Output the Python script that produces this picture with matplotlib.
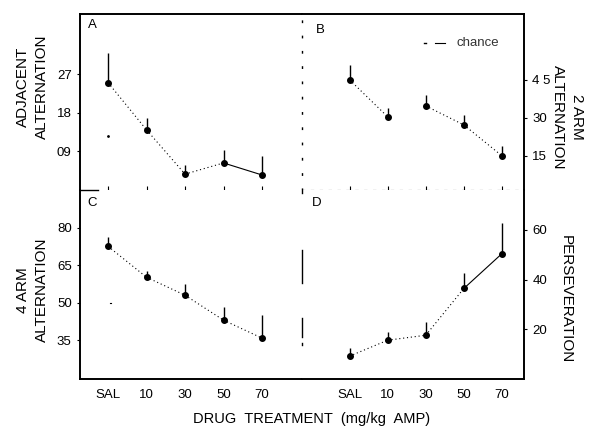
import numpy as np
import matplotlib
matplotlib.use('Agg')
import matplotlib.pyplot as plt

plt.rcParams['font.family'] = ['Liberation Sans', 'DejaVu Sans']

# (mean and top of the error bar)
doses = ['SAL', '10', '30', '50', '70']
adj_mean = [25.0, 14.0, 3.7, 6.3, 3.5]
adj_upper = [32.0, 16.8, 5.8, 9.4, 8.0]
arm2_mean = [45.0, 30.4, 34.7, 27.2, 15.0]
arm2_upper = [51.0, 34.0, 39.0, 31.0, 19.0]
arm4_mean = [72.6, 60.2, 53.0, 43.0, 35.8]
arm4_upper = [76.5, 62.7, 57.5, 48.2, 45.0]
pers_mean = [9.2, 15.6, 17.6, 36.4, 50.4]
pers_upper = [12.4, 18.8, 22.8, 42.8, 62.8]
adj_chance = 12.6

adj_ticks = [9, 18, 27]
adj_ticklabels = ['09', '18', '27']
arm2_ticks = [15, 30, 45]
arm4_ticks = [35, 50, 65, 80]
pers_ticks = [20, 40, 60]

x = np.arange(len(doses))

fig = plt.figure(figsize=(5.9, 4.29), dpi=100)
W, H = 590.0, 429.0


def box(x0, y0, x1, y1):
    # pixel box -> figure fraction
    return [x0 / W, 1 - y1 / H, (x1 - x0) / W, (y1 - y0) / H]


axA = fig.add_axes(box(80, 14, 302, 190))
axB = fig.add_axes(box(302, 14, 524, 190))
axC = fig.add_axes(box(80, 190, 302, 379))
axD = fig.add_axes(box(302, 190, 524, 379))

dot = (0, (1, 2.5))


def draw(ax, mean, upper, styles):
    for i in range(len(x) - 1):
        if styles[i] is None:
            continue
        ax.plot(x[i:i + 2], mean[i:i + 2], color='black', lw=0.8,
                linestyle=styles[i], zorder=2)
    ax.vlines(x, mean, upper, color='black', lw=1.0, zorder=2)
    ax.plot(x, mean, 'o', color='black', ms=4, zorder=3)


draw(axA, adj_mean, adj_upper, [dot, dot, dot, '-'])
draw(axB, arm2_mean, arm2_upper, [dot, None, dot, dot])
draw(axC, arm4_mean, arm4_upper, [dot, dot, dot, dot])
draw(axD, pers_mean, pers_upper, [dot, dot, dot, '-'])
axA.plot([0], [adj_chance], '.', color='black', ms=2)

axA.set_xlim(-0.73, 5.04)
axC.set_xlim(-0.73, 5.04)
axB.set_xlim(-1.25, 4.58)
axD.set_xlim(-1.25, 4.58)
axA.set_ylim(0, 41)
axB.set_ylim(1.5, 71)
axC.set_ylim(19.4, 95.2)
axD.set_ylim(0, 76)

for ax in (axA, axB, axC, axD):
    for s in ax.spines.values():
        s.set_linewidth(1.4)
    ax.tick_params(labelsize=9.5, length=2.5, width=0.8, direction='out')

# left column
axA.yaxis.tick_left()
axA.set_yticks(adj_ticks)
axA.set_yticklabels(adj_ticklabels)
axA.set_xticks(x)
axA.tick_params(axis='x', direction='in', length=3, labelbottom=False)
axA.spines['bottom'].set_visible(False)
axA.spines['right'].set_visible(False)

axC.set_yticks(arm4_ticks)
axC.set_xticks(x)
axC.set_xticklabels(doses)
axC.tick_params(axis='x', length=0, pad=7)
axC.spines['top'].set_visible(False)
axC.spines['right'].set_visible(False)
axC.plot([0, 0.08], [1, 1], transform=axC.transAxes, color='black', lw=1.0,
         clip_on=False)
axC.plot([0.06, 0.08], [50, 50], color='black', lw=0.8)

# right column
for ax, ticks in ((axB, arm2_ticks), (axD, pers_ticks)):
    ax.yaxis.tick_right()
    ax.set_yticks(ticks)
    ax.spines['left'].set_linewidth(1.0)
axB.set_yticklabels(['15', '30', '4 5'])
axB.set_xticks(x)
axB.tick_params(axis='x', direction='in', length=3, labelbottom=False)
axB.spines['left'].set_linestyle((0, (1, 10)))
axB.spines['bottom'].set_linewidth(0.8)
axB.spines['bottom'].set_linestyle((0, (2, 6)))
axD.set_xticks(x)
axD.set_xticklabels(doses)
axD.tick_params(axis='x', length=0, pad=7)
axD.spines['top'].set_visible(False)
# broken divider between C and D, pattern in pixels from the bottom
seg_px = [2, 6, 19, 35, 33, 57, 3, 100]
seg = [v * 72 / 100 for v in seg_px]
axD.spines['left'].set_linestyle((sum(seg) - 34 * 0.72, seg))

# axis titles
title_kw = dict(fontsize=11, linespacing=1.45, ha='center', va='center')
axA.text(-0.215, 0.585, 'ADJACENT\nALTERNATION', transform=axA.transAxes,
         rotation=90, **title_kw)
axC.text(-0.212, 0.47, '4 ARM\nALTERNATION', transform=axC.transAxes,
         rotation=90, **title_kw)
axB.text(1.194, 0.415, '2 ARM\nALTERNATION', transform=axB.transAxes,
         rotation=270, **title_kw)
axD.text(1.19, 0.423, 'PERSEVERATION', transform=axD.transAxes,
         rotation=270, **title_kw)

for ax, lab, px, py in ((axA, 'A', 0.036, 0.97), (axB, 'B', 0.063, 0.945),
                        (axC, 'C', 0.032, 0.965), (axD, 'D', 0.045, 0.965)):
    ax.text(px, py, lab, transform=ax.transAxes, fontsize=9.5,
            ha='left', va='top')

# chance key
axB.plot([0.55, 0.56], [0.835, 0.835], transform=axB.transAxes,
         color='black', lw=1.0)
axB.plot([0.6, 0.645], [0.835, 0.835], transform=axB.transAxes,
         color='black', lw=0.8)
axB.text(0.695, 0.835, 'chance', transform=axB.transAxes, fontsize=9.5,
         va='center', ha='left', color='#333333')

fig.text(312 / W, 1 - 419 / H, 'DRUG  TREATMENT  (mg/kg  AMP)',
         fontsize=10.5, ha='center', va='center')

fig.savefig('out.png', dpi=100)
